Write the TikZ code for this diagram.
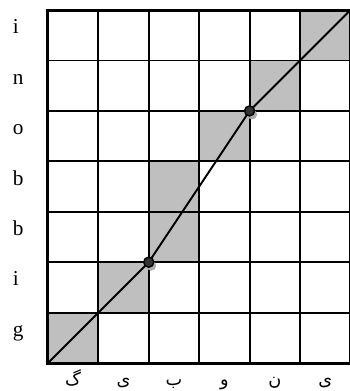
\documentclass[tikz,border=0pt]{standalone}
\usepackage{fontspec}
\setmainfont{Liberation Serif}
\newfontfamily\arabicfont[Script=Arabic]{DejaVu Sans}
\TeXXeTstate=1
\usetikzlibrary{positioning}

\tikzset{
  cella/.style={fill=gray!50},
  griglia/.style={line width=1.1pt},
  bordo/.style={line width=1.7pt},
  percorso/.style={line width=1.1pt, black},
  lettera/.style={font=\fontsize{12}{14}\selectfont, inner sep=0pt},
  persiana/.style={font=\arabicfont\fontsize{10}{12}\selectfont, inner sep=0pt}
}

\begin{document}
\begin{tikzpicture}

  \useasboundingbox (-0.95,-0.555) rectangle (5.98,7.2);

  % --- Caselle del percorso ---
  \foreach \c/\r in {0/0, 1/1, 2/2, 2/3, 3/4, 4/5, 5/6}{
    \fill[cella] (\c,\r) rectangle ++(1,1);
  }

  % --- Griglia ---
  \draw[griglia, step=1] (0,0) grid (6,7);
  \draw[bordo] (6,7) -- (0,7) -- (0,0) -- (6,0);

  % --- Percorso di allineamento ---
  \coordinate (inizio) at (0,0);
  \coordinate (p1) at (2,2);
  \coordinate (p2) at (4,5);
  \coordinate (fine) at (6,7);
  \draw[percorso] (inizio) -- (p1) -- (p2) -- (fine);

  % --- Punti ---
  \foreach \p in {p1,p2}{
    \fill[gray!65] ([shift={(0.05,-0.07)}]\p) circle (0.1);
    \filldraw[fill=black!80, draw=black, line width=0.8pt] (\p) circle (0.1);
  }

  % --- Lettere a sinistra ---
  \foreach \t [count=\k from 0] in {g,i,b,b,o,n,i}{
    \node[lettera, anchor=base west] (lett\k) at (-0.70,\k+0.53) {\t};
  }

  % --- Lettere in basso ---
  \foreach \t [count=\k from 0] in {گ,ی,ب,و,ن,ی}{
    \node[persiana, anchor=base] (pers\k) at (\k+0.5,-0.44) {\beginR\t\endR};
  }

\end{tikzpicture}
\end{document}
